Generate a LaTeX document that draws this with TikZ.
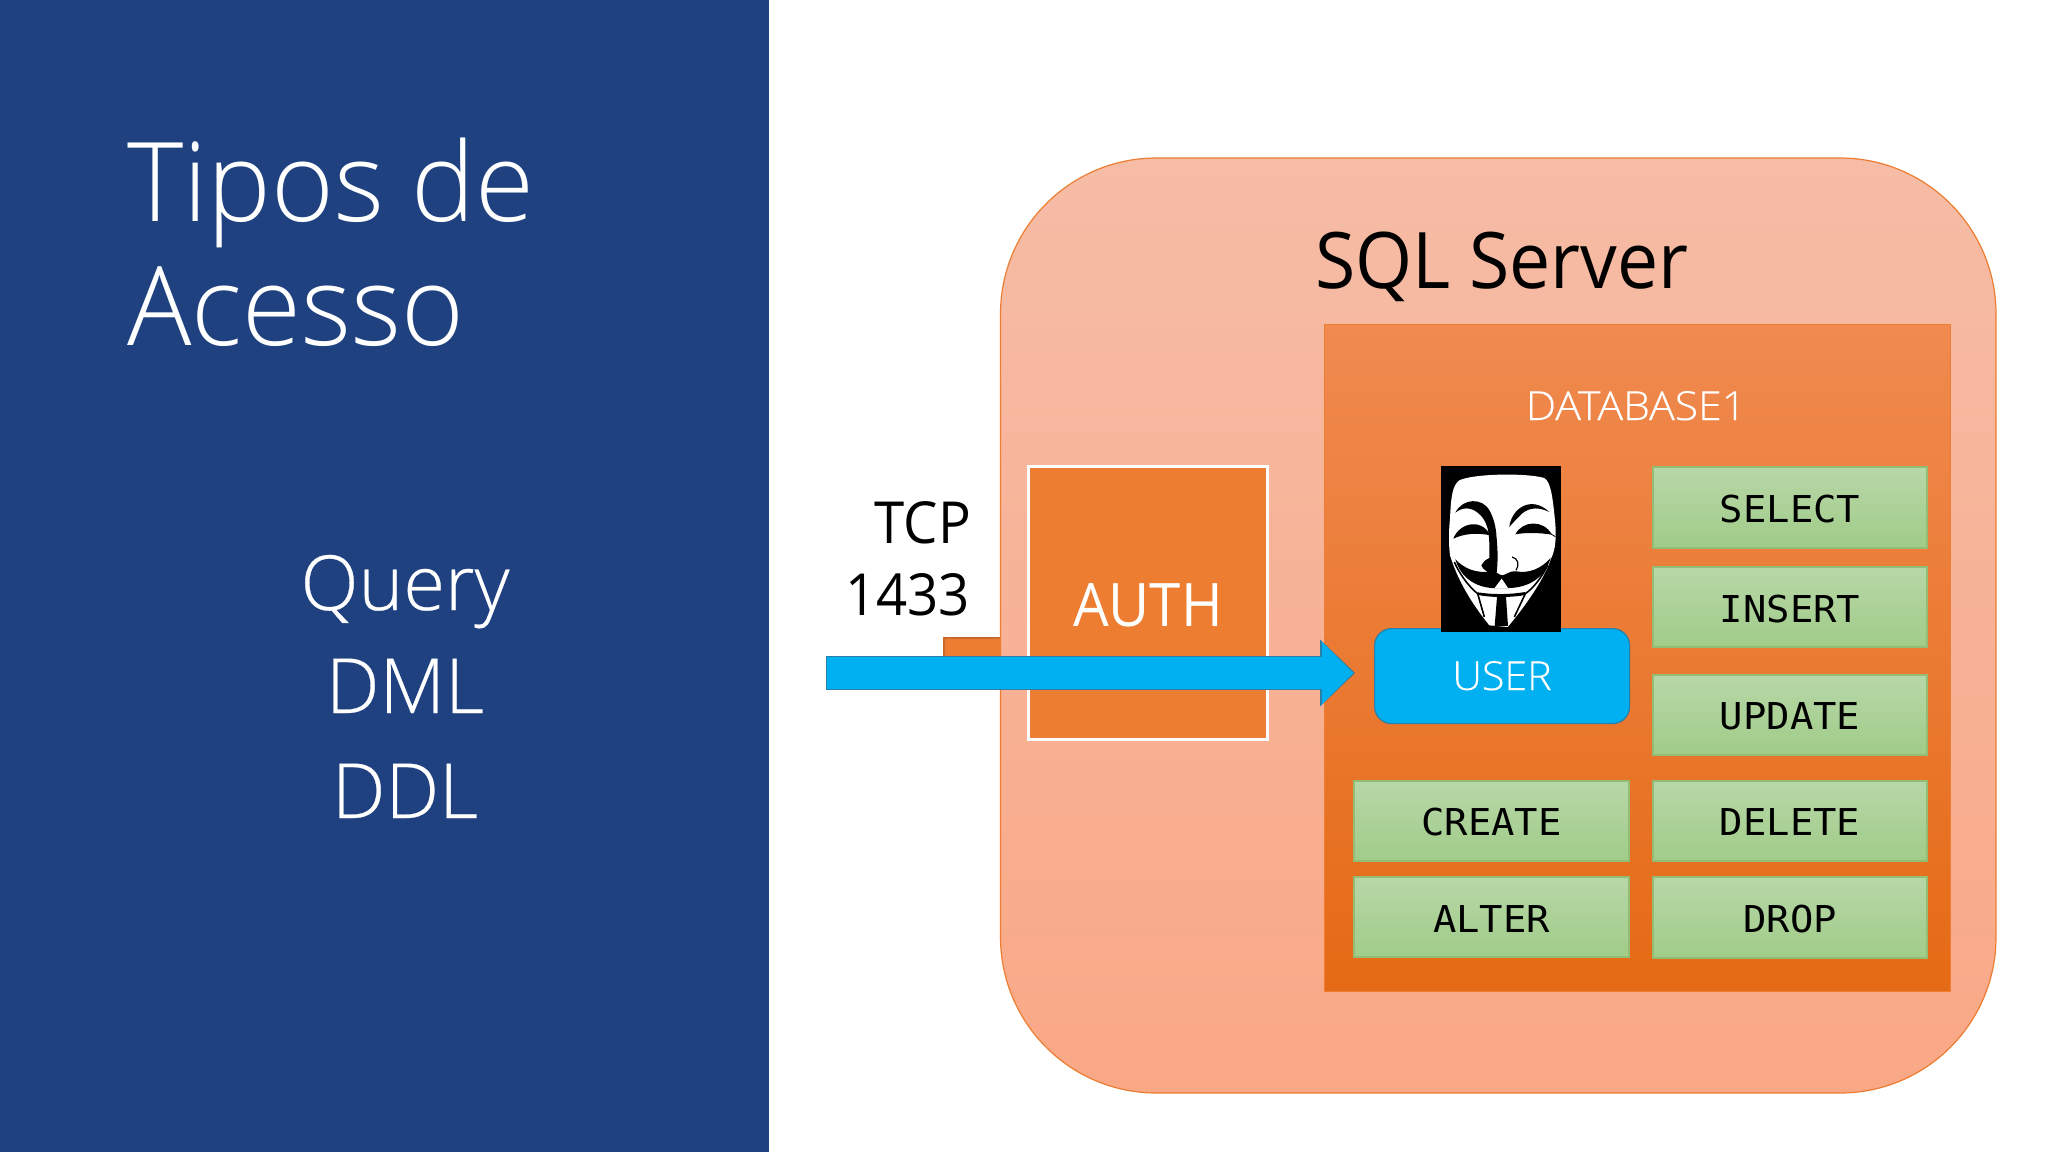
\documentclass[tikz,border=0pt]{standalone}
\usepackage{fontspec}
\setmainfont{Open Sans}[FakeStretch=0.94]
\newfontfamily\titlef{Open Sans Light}[FakeStretch=0.975]
\newfontfamily\rowf{Open Sans Light}[FakeBold=0.35]
\newfontfamily\dbf{Open Sans Light}[FakeStretch=1.07,FakeBold=0.25]
\newfontfamily\usf{Open Sans Light}[FakeStretch=1.03,FakeBold=0.25]
\newfontfamily\monof{DejaVu Sans Mono}[FakeStretch=1.05]
\usetikzlibrary{arrows.meta}
\definecolor{panel}{HTML}{1F4180}
\definecolor{orangeE}{HTML}{ED7D31}
\definecolor{skyb}{HTML}{00B0F0}
\definecolor{skyedge}{HTML}{2A7FA6}
\definecolor{grE}{HTML}{93BC74}
\definecolor{grT}{HTML}{B8D7A8}
\definecolor{grB}{HTML}{A0CC88}
\definecolor{srvT}{HTML}{F6BCA6}
\definecolor{srvB}{HTML}{F9A886}
\definecolor{dbT}{HTML}{F08A50}
\definecolor{dbM}{HTML}{F57828}
\definecolor{dbB}{HTML}{E56A15}
\tikzset{
  fs/.style={font=\fontsize{#1}{#1}\selectfont},
  lbl/.style={anchor=base,inner sep=0pt,outer sep=0pt},
  sharpbox/.style={inner sep=0pt,anchor=north west,rectangle},
  green/.style={draw=grE,line width=1.2pt,top color=grT,bottom color=grB},
  optxt/.style={lbl,text=black,font=\monof\fontsize{37}{37}\selectfont},
  flow/.style={line width=32pt,color=skyb,-{Triangle[length=31pt,width=62pt,line width=0pt]},shorten >=22pt},
  flowedge/.style={line width=34.5pt,color=skyedge,-{Triangle[length=35pt,width=67pt,line width=0pt]},shorten >=20pt},
}
\newcommand{\opbox}[6]{\path[green] (#2,#3) rectangle (#4,#5);\node[optxt] (#1) at ({(#2+#4)/2},#6) {\MakeUppercase{#1}};}
\begin{document}
\begin{tikzpicture}[x=1pt,y=-1pt]
\useasboundingbox (0,0) rectangle (2048,1152);
\fill[white] (0,0) rectangle (2048,1152);
\fill[panel] (0,0) rectangle (769,1152);
\node[lbl,anchor=base west,text=white,font=\titlef\fontsize{110}{110}\selectfont] (t1) at (127,221) {Tipos de};
\node[lbl,anchor=base west,text=white,font=\titlef\fontsize{110}{110}\selectfont] (t2) at (127,345) {Acesso};
\node[lbl,text=white,font=\rowf\fontsize{76}{76}\selectfont] (q) at (405,610) {Query};
\node[lbl,text=white,font=\rowf\fontsize{76}{76}\selectfont] (dml) at (405,713) {DML};
\node[lbl,text=white,font=\rowf\fontsize{76}{76}\selectfont] (ddl) at (405,818) {DDL};
% port tab
\path[draw=orangeE!85!black,fill=orangeE,line width=1.5pt] (944,665) -- (944,638) -- (1002,638) -- (1002,665);
% server
\path[draw=orangeE,line width=1.2pt,top color=srvT,bottom color=srvB,rounded corners=156pt] (1000.5,158) rectangle (1996,1093);
\node[lbl,anchor=base west,text=black,fs=78] (srv) at (1315,288) {SQL Server};
% database
\path[draw=orangeE,line width=1pt,top color=dbT,middle color=dbM,bottom color=dbB] (1324,324) rectangle (1950,991);
\node[lbl,text=white,font=\dbf\fontsize{40}{40}\selectfont] (db) at (1636,420) {DATABASE1};
% auth
\node[sharpbox,fill=orangeE,draw=white,line width=3pt,minimum width=239pt,minimum height=273pt] (authb) at (1027,465) {};
\node[lbl,text=white,fs=60] (auth) at (1148,626) {AUTH};
\node[lbl,anchor=base east,text=black,fs=58] (tcp) at (971,543) {TCP};
\node[lbl,anchor=base east,text=black,fs=58] (port) at (970,615) {1433};
% user
\node[sharpbox,fill=skyb,draw=skyedge,line width=1.2pt,rounded corners=17pt,minimum width=255pt,minimum height=95pt] (userb) at (1374,628) {};
\node[lbl,text=white,font=\usf\fontsize{40}{40}\selectfont] (user) at (1502,690) {USER};
% flow
\coordinate (src) at (826,673);
\coordinate (dst) at (1375,673);
\draw[flowedge] (src) -- (dst);
\draw[flow] ([xshift=1pt]src) -- (dst);
% operations
\opbox{select}{1653}{467}{1927}{548}{522}
\opbox{insert}{1653}{567}{1927}{647}{622}
\opbox{update}{1653}{675}{1927}{755}{729}
\opbox{delete}{1653}{781}{1927}{861}{835}
\opbox{drop}{1653}{877}{1927}{958}{932}
\opbox{create}{1354}{781}{1629}{861}{835}
\opbox{alter}{1354}{877}{1629}{957}{932}
% mask
\begin{scope}[shift={(1436,462)},x=0.3333pt,y=-0.3333pt]
\fill[black] (15,12) rectangle (375,510);
% face
\fill[white] (42,170) .. controls (45,100) and (50,70) .. (70,55) .. controls (110,35) and (270,32) .. (325,48)
  .. controls (345,60) and (350,110) .. (356,165) .. controls (362,220) and (360,260) .. (345,290)
  .. controls (325,350) and (270,430) .. (215,495) -- (160,490) .. controls (120,440) and (70,370) .. (42,280)
  .. controls (38,250) and (38,205) .. (42,170) -- cycle;
% brows
\fill[black] (58,152) .. controls (80,108) and (140,105) .. (162,148) .. controls (176,175) and (182,205) .. (182,240)
  -- (160,240) .. controls (158,195) and (148,170) .. (125,152) .. controls (105,136) and (80,134) .. (58,152) -- cycle;
\fill[black] (220,195) .. controls (226,140) and (285,98) .. (340,150) .. controls (300,130) and (268,140) .. (248,165) .. controls (238,175) and (228,185) .. (220,195) -- cycle;
% eyes
\fill[black] (52,230) .. controls (68,185) and (135,165) .. (163,220) .. controls (125,212) and (85,214) .. (52,230) -- cycle;
\fill[black] (238,217) .. controls (260,175) and (322,172) .. (348,218) .. controls (310,212) and (270,211) .. (238,217) -- cycle;
\draw[black,line width=0.8pt] (345,216) -- (358,224);
% nose
\fill[black] (160,230) -- (182,230) .. controls (186,270) and (186,310) .. (180,345) -- (160,340) .. controls (165,330) and (138,325) .. (136,310) .. controls (145,296) and (152,290) .. (160,288) -- cycle;
\draw[black,line width=1.2pt] (228,285) .. controls (245,288) and (252,308) .. (240,325);
% moustache and smile
\fill[black] (58,292) .. controls (85,320) and (120,335) .. (165,328) .. controls (180,326) and (190,340) .. (198,340)
  .. controls (208,340) and (222,325) .. (240,328) .. controls (280,335) and (315,320) .. (344,288)
  .. controls (325,350) and (275,382) .. (198,378) .. controls (125,384) and (75,350) .. (58,292) -- cycle;
\fill[white] (197,350) -- (216,378) -- (176,378) -- cycle;
% side lines
\draw[black,line width=1.6pt] (55,300) .. controls (75,345) and (105,380) .. (125,395) -- (145,465);
\draw[black,line width=1.6pt] (335,310) .. controls (315,350) and (290,380) .. (268,395) -- (235,465);
% tie
\fill[black] (125,391) .. controls (170,398) and (220,398) .. (268,390) -- (266,399) .. controls (250,403) and (225,404) .. (210,405) -- (216,492) -- (176,492) -- (183,405) .. controls (165,404) and (145,403) .. (127,399) -- cycle;
\end{scope}
\end{tikzpicture}
\end{document}
